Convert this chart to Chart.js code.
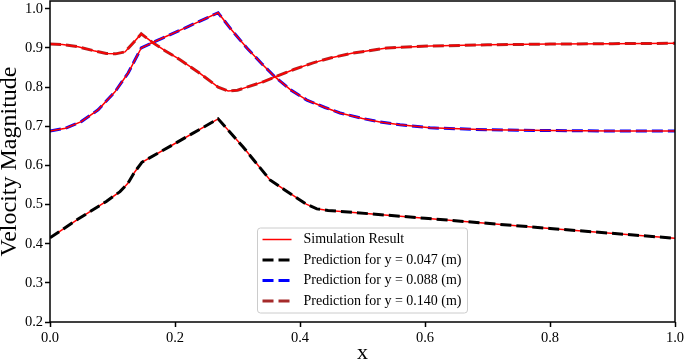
<!DOCTYPE html>
<html>
<head>
<meta charset="utf-8">
<script src="https://cdn.jsdelivr.net/npm/chart.js@4.4.0/dist/chart.umd.min.js"></script>
<style>
    html, body { margin: 0; padding: 0; background: #fff; }
    #wrap { width: 685px; height: 362px; }
</style>
</head>
<body>
<div id="wrap"><canvas id="chart"></canvas></div>
<script>
// y = 0.047 m
const xLow = [0, 0.045, 0.09, 0.112, 0.125, 0.135, 0.147, 0.2, 0.269, 0.309, 0.352, 0.375, 0.395, 0.41, 0.427, 0.445, 0.461, 0.6, 0.8, 1.0];
const vLow = [0.415, 0.463, 0.508, 0.533, 0.555, 0.582, 0.608, 0.656, 0.719, 0.647, 0.563, 0.538, 0.517, 0.501, 0.489, 0.485, 0.483, 0.465, 0.439, 0.414];

// y = 0.088 m
const xMid = [0, 0.025, 0.05, 0.077, 0.104, 0.125, 0.146, 0.163, 0.181, 0.22, 0.269, 0.29, 0.315, 0.34, 0.36, 0.385, 0.411, 0.44, 0.464, 0.5, 0.528, 0.56, 0.608, 0.7, 0.8, 0.9, 1.0];
const vMid = [0.688, 0.695, 0.712, 0.742, 0.788, 0.836, 0.9, 0.913, 0.926, 0.954, 0.99, 0.947, 0.9, 0.858, 0.826, 0.793, 0.767, 0.748, 0.734, 0.72, 0.711, 0.704, 0.696, 0.691, 0.689, 0.688, 0.688];

// y = 0.140 m
const xHigh = [0, 0.02, 0.045, 0.07, 0.09, 0.105, 0.12, 0.133, 0.146, 0.165, 0.184, 0.208, 0.24, 0.269, 0.285, 0.3, 0.315, 0.34, 0.36, 0.39, 0.421, 0.45, 0.485, 0.539, 0.608, 0.7, 0.8, 0.9, 1.0];
const vHigh = [0.91, 0.909, 0.903, 0.893, 0.886, 0.885, 0.89, 0.913, 0.936, 0.913, 0.893, 0.87, 0.835, 0.8, 0.79, 0.792, 0.8, 0.813, 0.826, 0.845, 0.862, 0.875, 0.887, 0.9, 0.905, 0.908, 0.91, 0.911, 0.912];

const xTicks = [0, 0.2, 0.4, 0.6, 0.8, 1.0];
const yTicks = [0.2, 0.3, 0.4, 0.5, 0.6, 0.7, 0.8, 0.9, 1.0];

const serif = "'Liberation Serif', 'Times New Roman', serif";
Chart.defaults.color = "#000";
Chart.defaults.font.family = serif;

const pts = (xs, ys) => xs.map((x, i) => ({ x: x, y: ys[i] }));

const simLine = (xs, ys, label) => ({
    label: label,
    data: pts(xs, ys),
    borderColor: "#ff0000",
    borderWidth: 1.5,
    pointRadius: 0,
    tension: 0,
    order: 3,
});

const predLine = (xs, ys, label, color, order) => ({
    label: label,
    data: pts(xs, ys),
    borderColor: color,
    borderWidth: 3,
    borderDash: [11, 5],
    borderCapStyle: "butt",
    pointRadius: 0,
    tension: 0,
    order: order,
});

const simLow = simLine(xLow, vLow, "Simulation Result");
const simMid = simLine(xMid, vMid, "");
const simHigh = simLine(xHigh, vHigh, "");
const predLow = predLine(xLow, vLow, "Prediction for y = 0.047 (m)", "#000000", 1);
const predMid = predLine(xMid, vMid, "Prediction for y = 0.088 (m)", "#0000ff", 5);
const predHigh = predLine(xHigh, vHigh, "Prediction for y = 0.140 (m)", "#a52a2a", 5);

const legendItems = [simLow, predLow, predMid, predHigh];

// box around the plot, like matplotlib spines
const frame = {
    id: "frame",
    afterDatasetsDraw(chart) {
        const { ctx, chartArea: a } = chart;
        ctx.save();
        ctx.strokeStyle = "#000";
        ctx.lineWidth = 1.5;
        ctx.strokeRect(a.left, a.top, a.right - a.left, a.bottom - a.top);
        ctx.restore();
    },
};

// legend box at lower center inside the plot
const boxLegend = {
    id: "boxLegend",
    afterDraw(chart) {
        const { ctx, chartArea: a } = chart;
        ctx.save();
        ctx.font = "14px " + serif;
        const textW = Math.max(...legendItems.map((d) => ctx.measureText(d.label).width));
        const rowH = 20.5, lineLen = 29, padL = 5, gap = 12, padR = 6;
        const boxW = padL + lineLen + gap + textW + padR;
        const boxH = rowH * legendItems.length + 3;
        const left = (a.left + a.right) / 2 - boxW / 2;
        const top = a.bottom - 9 - boxH;

        ctx.beginPath();
        ctx.roundRect(left, top, boxW, boxH, 3);
        ctx.fillStyle = "rgba(255,255,255,0.8)";
        ctx.fill();
        ctx.strokeStyle = "#cccccc";
        ctx.lineWidth = 1;
        ctx.stroke();

        legendItems.forEach((d, i) => {
            const cy = top + 11.5 + i * rowH;
            ctx.beginPath();
            ctx.setLineDash(d.borderDash || []);
            ctx.lineWidth = d.borderWidth;
            ctx.strokeStyle = d.borderColor;
            ctx.lineCap = "butt";
            ctx.moveTo(left + padL, cy);
            ctx.lineTo(left + padL + lineLen, cy);
            ctx.stroke();
            ctx.setLineDash([]);
            ctx.fillStyle = "#000";
            ctx.textBaseline = "middle";
            ctx.textAlign = "left";
            ctx.fillText(d.label, left + padL + lineLen + gap, cy);
        });
        ctx.restore();
    },
};

const axisGrid = {
    display: true,
    drawOnChartArea: false,
    drawTicks: true,
    tickLength: 5,
    tickWidth: 1.5,
    tickColor: "#000",
};

new Chart(document.getElementById("chart"), {
    type: "line",
    data: {
        datasets: [simLow, simMid, simHigh, predLow, predMid, predHigh],
    },
    options: {
        responsive: true,
        maintainAspectRatio: false,
        animation: false,
        layout: { padding: { top: 1, right: 10, left: 0, bottom: 0 } },
        plugins: {
            legend: { display: false },
            tooltip: { enabled: false },
        },
        scales: {
            x: {
                type: "linear",
                min: 0,
                max: 1,
                afterBuildTicks: (s) => { s.ticks = xTicks.map((v) => ({ value: v })); },
                afterFit: (s) => { s.height = 40; s.paddingLeft = 0; s.paddingRight = 0; },
                grid: axisGrid,
                border: { display: false },
                ticks: {
                    padding: 2,
                    maxRotation: 0,
                    font: { size: 14.5 },
                    callback: (v) => Number(v).toFixed(1),
                },
                title: {
                    display: true,
                    text: "x",
                    font: { size: 22, lineHeight: 0.8 },
                    padding: { top: 0, bottom: 0 },
                },
            },
            y: {
                type: "linear",
                min: 0.2,
                max: 1.02,
                afterBuildTicks: (s) => { s.ticks = yTicks.map((v) => ({ value: v })); },
                afterFit: (s) => { s.width = 50; s.paddingTop = 0; s.paddingBottom = 0; },
                grid: axisGrid,
                border: { display: false },
                ticks: {
                    padding: 2,
                    font: { size: 14.5 },
                    callback: (v) => Number(v).toFixed(1),
                },
                title: {
                    display: true,
                    text: "Velocity Magnitude",
                    font: { size: 24, lineHeight: 0.8 },
                    padding: { top: 0, bottom: 0 },
                },
            },
        },
    },
    plugins: [frame, boxLegend],
});
</script>
</body>
</html>
